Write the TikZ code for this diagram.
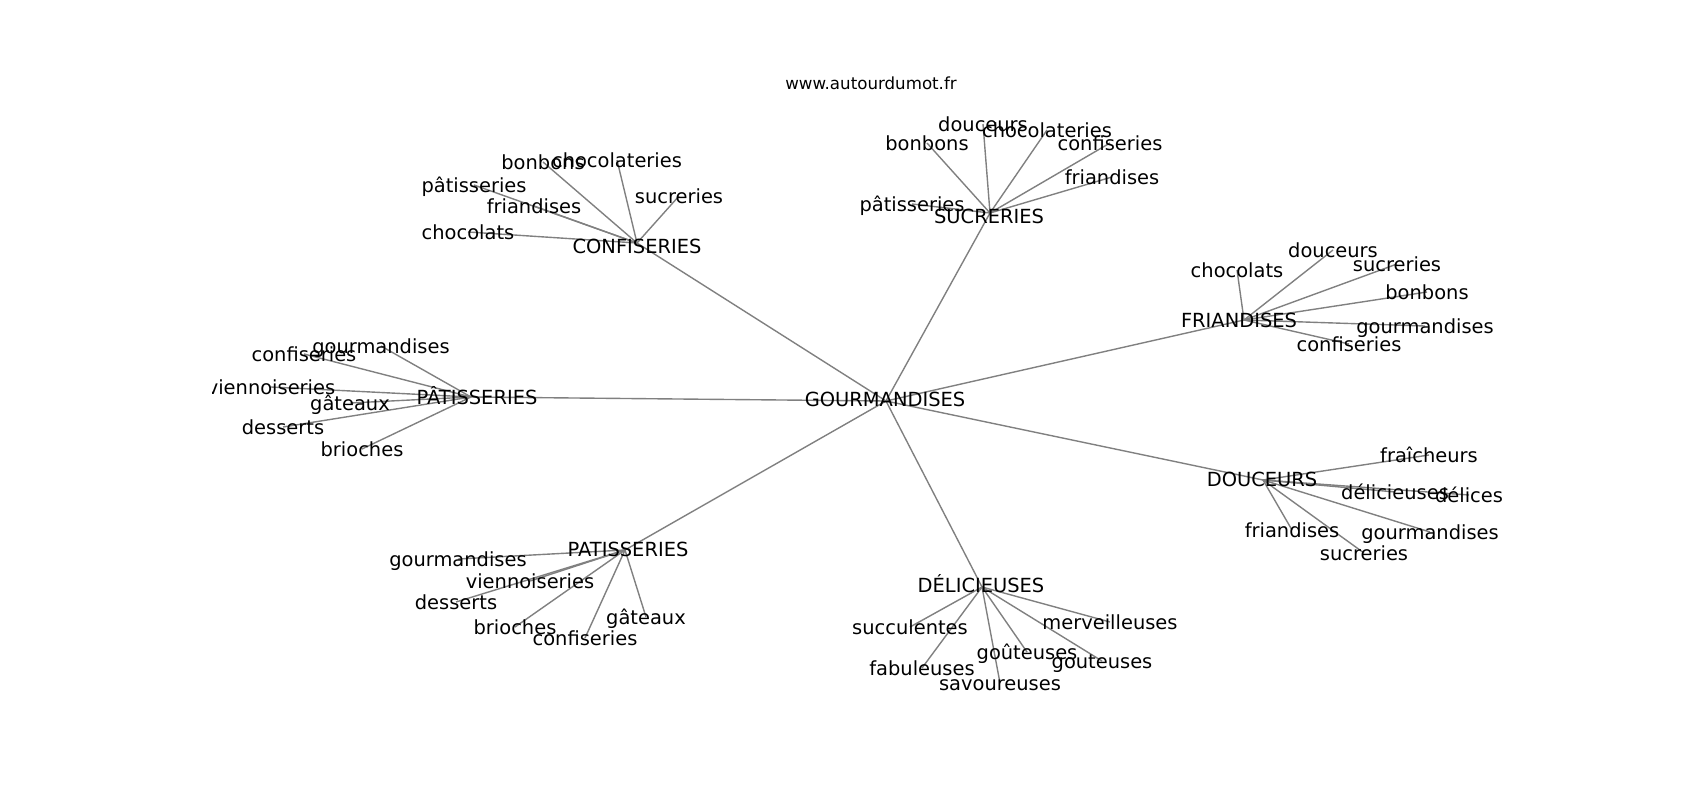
\documentclass[tikz,border=0pt]{standalone}
\usepackage{fontspec}
\setmainfont{DejaVu Sans}
\begin{document}
\begin{tikzpicture}[x=0.72pt,y=-0.72pt]
\tikzset{
  lbl/.style={font=\fontsize{14}{14}\selectfont, text height=10.2pt, text depth=0pt, inner sep=0pt, anchor=center},
  ttl/.style={font=\fontsize{12}{12}\selectfont, inner sep=0pt, anchor=base},
  edge/.style={draw=black!50, line width=1pt}
}
\useasboundingbox[fill=white] (0,0) rectangle (1700,800);
% hub points
\coordinate (G) at (886,401);
\coordinate (C) at (637,243);
\coordinate (S) at (990,213);
\coordinate (F) at (1244,320);
\coordinate (D) at (1263,480);
\coordinate (DE) at (982,587);
\coordinate (PT) at (625,550);
\coordinate (PA) at (471,397);
% leaves
\coordinate (c1) at (543,162);
\coordinate (c2) at (617,160);
\coordinate (c3) at (679,196);
\coordinate (c4) at (474,185);
\coordinate (c5) at (534,206);
\coordinate (c6) at (468,232);
\coordinate (s1) at (983,124);
\coordinate (s2) at (1047,130);
\coordinate (s3) at (927,143);
\coordinate (s4) at (1110,143);
\coordinate (s5) at (1112,177);
\coordinate (s6) at (912,204);
\coordinate (f1) at (1237,270);
\coordinate (f2) at (1333,250);
\coordinate (f3) at (1397,264);
\coordinate (f4) at (1427,292);
\coordinate (f5) at (1425,326);
\coordinate (f6) at (1349,344);
\coordinate (a1) at (381,346);
\coordinate (a2) at (304,354);
\coordinate (a3) at (271,387);
\coordinate (a4) at (350,403);
\coordinate (a5) at (283,427);
\coordinate (a6) at (362,449);
\coordinate (d1) at (1429,455);
\coordinate (d2) at (1395,492);
\coordinate (d3) at (1469,495);
\coordinate (d4) at (1292,530);
\coordinate (d5) at (1430,532);
\coordinate (d6) at (1364,553);
\coordinate (p1) at (458,559);
\coordinate (p2) at (530,581);
\coordinate (p3) at (456,602);
\coordinate (p4) at (515,627);
\coordinate (p5) at (585,638);
\coordinate (p6) at (646,617);
\coordinate (e1) at (910,627);
\coordinate (e2) at (1110,622);
\coordinate (e3) at (1027,652);
\coordinate (e4) at (1102,661);
\coordinate (e5) at (922,668);
\coordinate (e6) at (1000,683);
% edges
\foreach \h in {C,S,F,D,DE,PT,PA} \draw[edge] (G) -- (\h);
\foreach \i in {1,...,6} {
  \draw[edge] (C) -- (c\i);
  \draw[edge] (S) -- (s\i);
  \draw[edge] (F) -- (f\i);
  \draw[edge] (PA) -- (a\i);
  \draw[edge] (D) -- (d\i);
  \draw[edge] (PT) -- (p\i);
  \draw[edge] (DE) -- (e\i);
}
% title
\node[ttl] (title) at (871,89) {www.autourdumot.fr};
\begin{scope}
\clip (212.5,96) rectangle (1530,712);
\node[lbl] (nG) at (885,399) {GOURMANDISES};
\node[lbl] (nC) at (637,246) {CONFISERIES};
\node[lbl] (nS) at (989,216) {SUCRERIES};
\node[lbl] (nF) at (1239,320) {FRIANDISES};
\node[lbl] (nD) at (1262,479) {DOUCEURS};
\node[lbl] (nDE) at (981,585) {DÉLICIEUSES};
\node[lbl] (nPT) at (628,549) {PATISSERIES};
\node[lbl] (nPA) at (477,397) {PÂTISSERIES};
\node[lbl] (lc1) at (c1) {bonbons};
\node[lbl] (lc2) at (c2) {chocolateries};
\node[lbl] (lc3) at (c3) {sucreries};
\node[lbl] (lc4) at (c4) {pâtisseries};
\node[lbl] (lc5) at (c5) {friandises};
\node[lbl] (lc6) at (c6) {chocolats};
\node[lbl] (ls1) at (s1) {douceurs};
\node[lbl] (ls2) at (s2) {chocolateries};
\node[lbl] (ls3) at (s3) {bonbons};
\node[lbl] (ls4) at (s4) {confiseries};
\node[lbl] (ls5) at (s5) {friandises};
\node[lbl] (ls6) at (s6) {pâtisseries};
\node[lbl] (lf1) at (f1) {chocolats};
\node[lbl] (lf2) at (f2) {douceurs};
\node[lbl] (lf3) at (f3) {sucreries};
\node[lbl] (lf4) at (f4) {bonbons};
\node[lbl] (lf5) at (f5) {gourmandises};
\node[lbl] (lf6) at (f6) {confiseries};
\node[lbl] (la1) at (a1) {gourmandises};
\node[lbl] (la2) at (a2) {confiseries};
\node[lbl] (la3) at (a3) {viennoiseries};
\node[lbl] (la4) at (a4) {gâteaux};
\node[lbl] (la5) at (a5) {desserts};
\node[lbl] (la6) at (a6) {brioches};
\node[lbl] (ld1) at (d1) {fraîcheurs};
\node[lbl] (ld2) at (d2) {délicieuses};
\node[lbl] (ld3) at (d3) {délices};
\node[lbl] (ld4) at (d4) {friandises};
\node[lbl] (ld5) at (d5) {gourmandises};
\node[lbl] (ld6) at (d6) {sucreries};
\node[lbl] (lp1) at (p1) {gourmandises};
\node[lbl] (lp2) at (p2) {viennoiseries};
\node[lbl] (lp3) at (p3) {desserts};
\node[lbl] (lp4) at (p4) {brioches};
\node[lbl] (lp5) at (p5) {confiseries};
\node[lbl] (lp6) at (p6) {gâteaux};
\node[lbl] (le1) at (e1) {succulentes};
\node[lbl] (le2) at (e2) {merveilleuses};
\node[lbl] (le3) at (e3) {goûteuses};
\node[lbl] (le4) at (e4) {gouteuses};
\node[lbl] (le5) at (e5) {fabuleuses};
\node[lbl] (le6) at (e6) {savoureuses};
\end{scope}
\end{tikzpicture}
\end{document}
